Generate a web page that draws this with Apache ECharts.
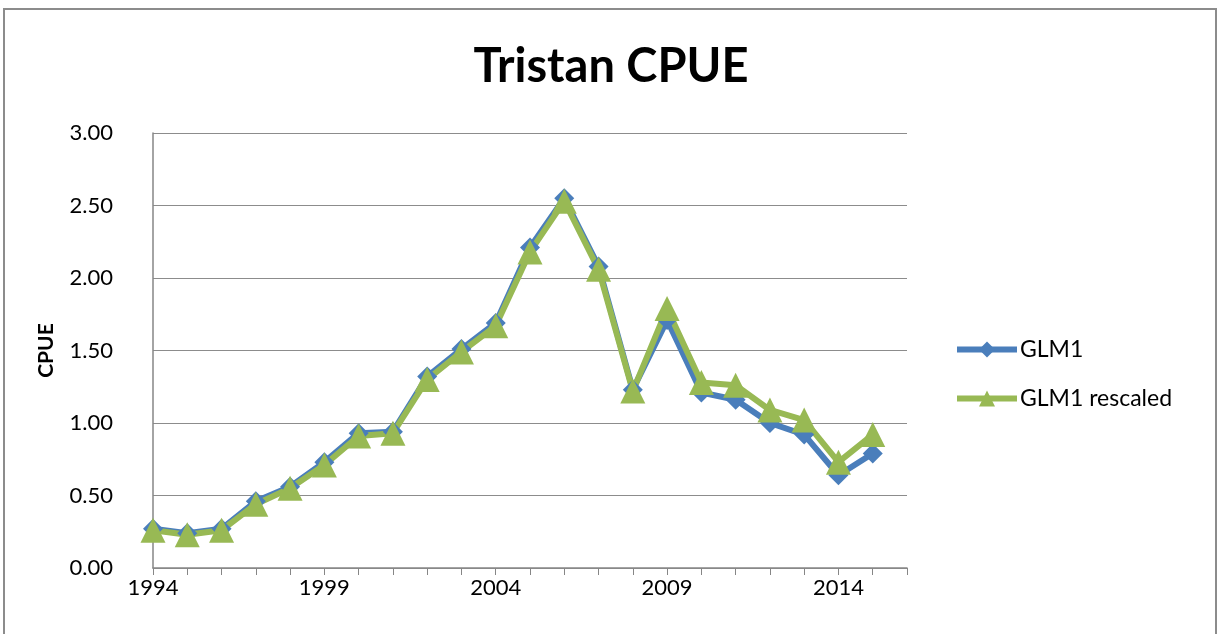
<!DOCTYPE html>
<html>
<head>
<meta charset="utf-8">
<script src="https://cdn.jsdelivr.net/npm/echarts@6/dist/echarts.min.js"></script>
<style>
  html, body { margin: 0; padding: 0; background: #fff; }
  #chart { width: 1222px; height: 634px; }
  .frame { position: absolute; left: 3px; top: 8px; width: 1214px; height: 640px; border: 2px solid #8c8c8c; box-sizing: border-box; pointer-events: none; }
</style>
</head>
<body>
<div id="chart"></div>
<div class="frame"></div>
<script>
// years on the category axis (2016 is an empty slot at the right edge)
const years = ["1994", "1995", "1996", "1997", "1998", "1999", "2000", "2001", "2002", "2003", "2004",
  "2005", "2006", "2007", "2008", "2009", "2010", "2011", "2012", "2013", "2014", "2015", "2016"];

const glm1 = [0.27, 0.24, 0.27, 0.46, 0.56, 0.73, 0.93, 0.94, 1.32, 1.51, 1.69,
  2.21, 2.55, 2.08, 1.23, 1.71, 1.21, 1.16, 1.00, 0.92, 0.64, 0.79, null];

const glm1Rescaled = [0.26, 0.23, 0.26, 0.44, 0.55, 0.71, 0.91, 0.93, 1.30, 1.49, 1.67,
  2.18, 2.53, 2.06, 1.22, 1.79, 1.28, 1.26, 1.09, 1.02, 0.73, 0.92, null];

const FONT = "Lato, 'Open Sans', sans-serif";

const chart = echarts.init(document.getElementById("chart"));

chart.setOption({
  animation: false,
  title: {
    text: "Tristan CPUE",
    left: "center",
    top: 38,
    textStyle: { fontFamily: FONT, fontSize: 47, fontWeight: "bold", color: "#000" },
  },
  legend: {
    orient: "vertical",
    left: 949,
    top: 333,
    itemGap: 26,
    itemWidth: 60,
    itemHeight: 20,
    lineStyle: { width: 6 },
    textStyle: { fontFamily: FONT, fontSize: 23, color: "#000", padding: [0, 0, 0, -2] },
    data: ["GLM1", "GLM1 rescaled"],
  },
  grid: { left: 153, right: 315, top: 133, bottom: 66 },
  xAxis: {
    type: "category",
    data: years,
    boundaryGap: false,
    axisLine: { lineStyle: { color: "#868686", width: 1.5 } },
    axisTick: { interval: 0, length: 7, lineStyle: { color: "#868686" } },
    axisLabel: {
      interval: 4,
      color: "#000",
      fontFamily: FONT,
      fontSize: 22,
      margin: 9,
    },
  },
  yAxis: {
    type: "value",
    min: 0,
    max: 3,
    interval: 0.5,
    name: "CPUE",
    nameLocation: "middle",
    nameGap: 96,
    nameTextStyle: { fontFamily: FONT, fontSize: 21, fontWeight: "bold", color: "#000" },
    axisLine: { show: true, lineStyle: { color: "#868686", width: 1.5 } },
    axisTick: { show: false },
    splitLine: { lineStyle: { color: "#8c8c8c", width: 1.2 } },
    axisLabel: {
      color: "#000",
      fontFamily: FONT,
      fontSize: 22,
      margin: 40,
      formatter: (v) => v.toFixed(2),
    },
  },
  series: [
    {
      name: "GLM1",
      type: "line",
      data: glm1,
      symbol: "diamond",
      symbolSize: 20,
      showAllSymbol: true,
      lineStyle: { color: "#4a7ebb", width: 6 },
      itemStyle: { color: "#4a7ebb" },
    },
    {
      name: "GLM1 rescaled",
      type: "line",
      data: glm1Rescaled,
      symbol: "triangle",
      symbolSize: 25,
      showAllSymbol: true,
      lineStyle: { color: "#98b954", width: 6 },
      itemStyle: { color: "#98b954" },
    },
  ],
});
</script>
</body>
</html>
